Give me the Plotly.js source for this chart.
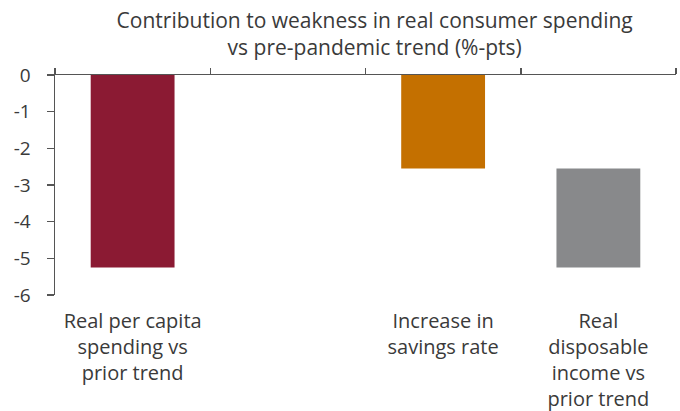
<!DOCTYPE html>
<html>
<head>
<meta charset="utf-8">
<script src="https://cdn.plot.ly/plotly-3.0.1.min.js"></script>
<style>html,body{margin:0;padding:0;background:#fff;}#chart{width:680px;height:411px;}</style>
</head>
<body>
<div id="chart"></div>
<script>
// Data
const categories = [
  "Real per capita<br>spending vs<br>prior trend",
  "",
  "Increase in<br>savings rate",
  "Real<br>disposable<br>income vs<br>prior trend"
];
const barValues = [-5.25, null, -2.55, -2.7];
const barBases = [0, null, 0, -2.55];
const barColors = ["#8B1A33", "#ffffff", "#C47000", "#88898B"];
const yTickVals = [0, -1, -2, -3, -4, -5, -6];
const yTickText = ["0", "-1", "-2", "-3", "-4", "-5", "-6"];
const titleText = "Contribution to weakness in real consumer spending<br>vs pre-pandemic trend (%-pts)";

const xIdx = categories.map((_, i) => i);
const boundaries = [-0.5].concat(xIdx.map(i => i + 0.5));

const font = "'Open Sans', Lato, sans-serif";
const textColor = "#3a3a3a";

const trace = {
  type: "bar",
  x: xIdx,
  y: barValues,
  base: barBases,
  width: 0.54,
  marker: {color: barColors},
  hoverinfo: "skip",
  showlegend: false
};
const dummy = {
  type: "scatter", x: [], y: [], xaxis: "x2", yaxis: "y", showlegend: false, hoverinfo: "skip"
};

const layout = {
  width: 680, height: 411,
  margin: {l: 55, r: 4, t: 75, b: 116},
  paper_bgcolor: "#fff", plot_bgcolor: "#fff",
  font: {family: font, color: textColor, size: 20},
  title: {
    text: titleText,
    font: {family: font, size: 21, color: textColor},
    x: 0.551, xref: "container", xanchor: "center",
    y: 0.932, yref: "container", yanchor: "bottom",
    pad: {t: 0, b: 0, l: 0, r: 0}
  },
  xaxis: {
    range: [-0.5, xIdx.length - 0.5],
    tickvals: xIdx, ticktext: categories,
    showline: false, showgrid: false, zeroline: false,
    ticks: "", ticklabelstandoff: 12,
    tickfont: {family: font, size: 20, color: textColor},
    fixedrange: true
  },
  xaxis2: {
    overlaying: "x", side: "top", anchor: "y",
    range: [-0.5, xIdx.length - 0.5],
    tickvals: boundaries, showticklabels: false,
    ticks: "outside", ticklen: 6, tickwidth: 1.5, tickcolor: "#555",
    showline: true, linecolor: "#555", linewidth: 1.5,
    showgrid: false, zeroline: false
  },
  yaxis: {
    range: [-6, 0],
    tickvals: yTickVals, ticktext: yTickText,
    ticks: "outside", ticklen: 7, tickwidth: 1.5, tickcolor: "#555",
    showline: true, linecolor: "#555", linewidth: 1.5,
    showgrid: false, zeroline: false,
    ticklabelstandoff: 12,
    tickfont: {family: font, size: 19, color: textColor}
  }
};

Plotly.newPlot("chart", [trace, dummy], layout, {displayModeBar: false, staticPlot: true});
</script>
</body>
</html>
